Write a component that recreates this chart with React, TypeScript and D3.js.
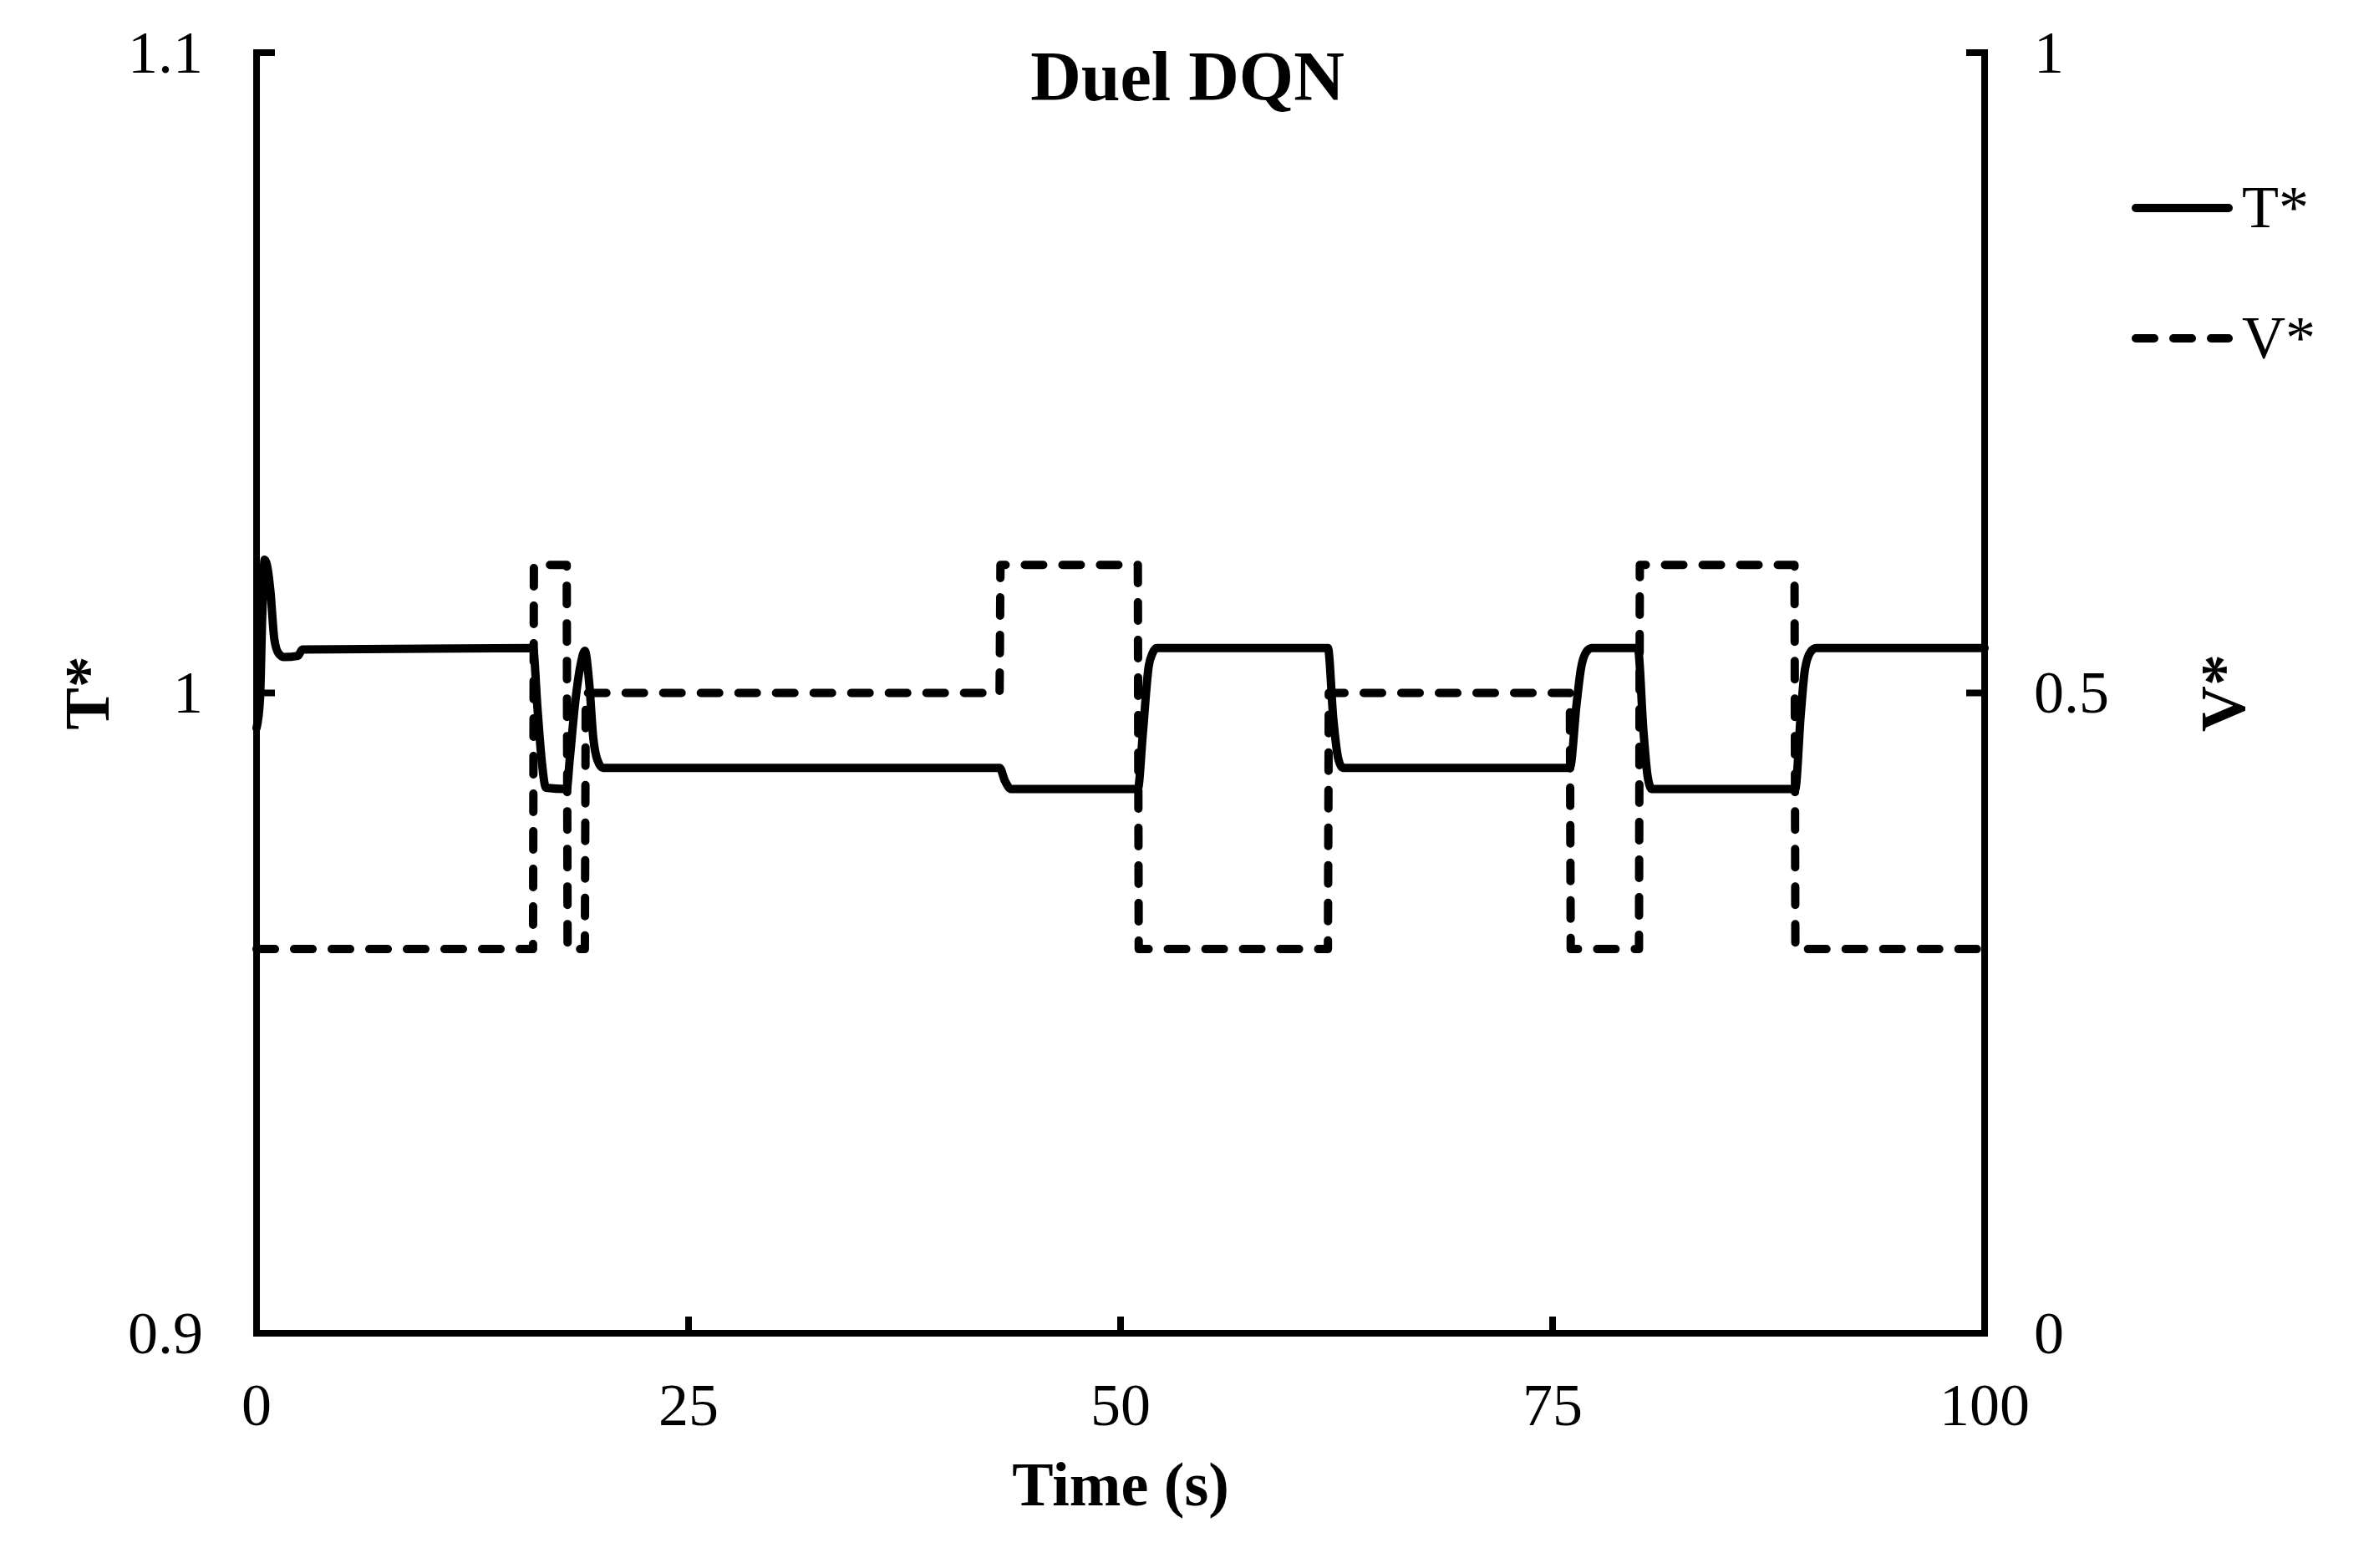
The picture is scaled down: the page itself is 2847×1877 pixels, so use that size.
import React from "react";
import * as d3 from "d3";

// ---- data ----
const tTime = [
  0, 0.2, 0.33, 0.47, 0.6, 0.8, 1.03, 1.27, 1.6, 2.4, 2.65,
  16.0, 16.26, 16.5, 16.75, 17.95, 18.12, 18.44, 18.76, 19.0, 19.25, 19.49, 19.73, 20.05,
  43.0, 43.32, 43.66, 51.0, 51.29, 51.63, 51.85, 52.1,
  62.0, 62.31, 62.61, 62.86,
  76.0, 76.39, 76.63, 76.95, 77.27,
  79.93, 80.26, 80.5, 80.74,
  89.04, 89.36, 89.6, 89.93, 90.25, 100,
];
const tValue = [
  0.9945, 0.999, 1.012, 1.0208, 1.02, 1.016, 1.0084, 1.0062, 1.0056, 1.0058, 1.0068,
  1.007, 0.9975, 0.9895, 0.9852, 0.985, 0.9895, 0.9985, 1.0045, 1.0066, 1.0016, 0.9929, 0.9895, 0.9883,
  0.9883, 0.9862, 0.985, 0.985, 0.9937, 1.0042, 1.0062, 1.007,
  1.007, 0.996, 0.9896, 0.9883,
  0.9883, 0.9983, 1.0036, 1.0064, 1.007,
  1.007, 0.994, 0.987, 0.985,
  0.985, 0.9966, 1.0036, 1.0064, 1.007, 1.007,
];
const vTime = [0, 16.0, 16.05, 17.95, 18.0, 19.0, 19.05, 43.0, 43.05, 51.0, 51.05, 62.0, 62.05, 76.0, 76.05, 80.0, 80.05, 89.0, 89.05, 100];
const vValue = [0.3, 0.3, 0.6, 0.6, 0.3, 0.3, 0.5, 0.5, 0.6, 0.6, 0.3, 0.3, 0.5, 0.5, 0.3, 0.3, 0.6, 0.6, 0.3, 0.3];

const xTicks = [0, 25, 50, 75, 100];
const tTicks = [0.9, 1, 1.1];
const tTickLabels = ["0.9", "1", "1.1"];
const vTicks = [0, 0.5, 1];
const vTickLabels = ["0", "0.5", "1"];

const title = "Duel DQN";
const xTitle = "Time (s)";
const tTitle = "T*";
const vTitle = "V*";
const seriesNames = ["T*", "V*"];

export default function App() {
  const W = 2847, H = 1877;
  const left = 307, right = 2375, top = 63, bottom = 1596;
  const x = d3.scaleLinear().domain([0, 100]).range([left, right]);
  const yT = d3.scaleLinear().domain([0.9, 1.1]).range([bottom, top]);
  const yV = d3.scaleLinear().domain([0, 1]).range([bottom, top]);

  const tData = tTime.map((t, i) => [t, tValue[i]] as [number, number]);
  const vData = vTime.map((t, i) => [t, vValue[i]] as [number, number]);

  const lineT = d3.line<[number, number]>().x(d => x(d[0])).y(d => yT(d[1])).curve(d3.curveMonotoneX);
  const lineV = d3.line<[number, number]>().x(d => x(d[0])).y(d => yV(d[1]));

  const font = "'Liberation Serif', 'Times New Roman', serif";
  const axisW = 8;
  const tickLen = 22;
  const lineW = 10;

  return (
    <svg width={W} height={H} style={{ position: "absolute", left: 0, top: 0, background: "#fff" }} fontFamily={font}>
      <rect x={0} y={0} width={W} height={H} fill="#fff" />
      {/* series */}
      <path d={lineV(vData) || ""} fill="none" stroke="#000" strokeWidth={lineW} strokeDasharray="22,23" strokeLinecap="round" strokeLinejoin="round" />
      <path d={lineT(tData) || ""} fill="none" stroke="#000" strokeWidth={lineW} strokeLinecap="round" strokeLinejoin="round" />

      {/* axes */}
      <line x1={left} y1={top - 4} x2={left} y2={bottom + 4} stroke="#000" strokeWidth={axisW} />
      <line x1={right} y1={top - 4} x2={right} y2={bottom + 4} stroke="#000" strokeWidth={axisW} />
      <line x1={left - 4} y1={bottom} x2={right + 4} y2={bottom} stroke="#000" strokeWidth={axisW} />

      {tTicks.map((t, i) => (
        <g key={"lt" + i}>
          <line x1={left} x2={left + tickLen} y1={yT(t)} y2={yT(t)} stroke="#000" strokeWidth={axisW} />
          <text x={243} y={yT(t)} dy="0.33em" textAnchor="end" fontSize={72}>{tTickLabels[i]}</text>
        </g>
      ))}
      {vTicks.map((v, i) => (
        <g key={"rt" + i}>
          <line x1={right - tickLen} x2={right} y1={yV(v)} y2={yV(v)} stroke="#000" strokeWidth={axisW} />
          <text x={2434} y={yV(v)} dy="0.33em" textAnchor="start" fontSize={72}>{vTickLabels[i]}</text>
        </g>
      ))}
      {xTicks.map((t, i) => (
        <g key={"xt" + i}>
          <line x1={x(t)} x2={x(t)} y1={bottom} y2={bottom - 20} stroke="#000" strokeWidth={axisW} />
          <text x={x(t)} y={1706} textAnchor="middle" fontSize={72}>{String(t)}</text>
        </g>
      ))}

      {/* titles */}
      <text x={1421} y={120} textAnchor="middle" fontSize={84} fontWeight="bold">{title}</text>
      <text x={(left + right) / 2} y={1802} textAnchor="middle" fontSize={74} fontWeight="bold">{xTitle}</text>
      <text transform={`translate(130,${(top + bottom) / 2}) rotate(-90)`} textAnchor="middle" fontSize={76} fontWeight="bold">{tTitle}</text>
      <text transform={`translate(2686,${(top + bottom) / 2}) rotate(-90)`} textAnchor="middle" fontSize={76} fontWeight="bold">{vTitle}</text>

      {/* legend */}
      <line x1={2556} x2={2667} y1={249} y2={249} stroke="#000" strokeWidth={lineW} strokeLinecap="round" />
      <text x={2683} y={272} fontSize={72}>{seriesNames[0]}</text>
      <line x1={2556} x2={2667} y1={405} y2={405} stroke="#000" strokeWidth={lineW} strokeLinecap="round" strokeDasharray="22,23" />
      <text x={2683} y={428} fontSize={72}>{seriesNames[1]}</text>
    </svg>
  );
}
